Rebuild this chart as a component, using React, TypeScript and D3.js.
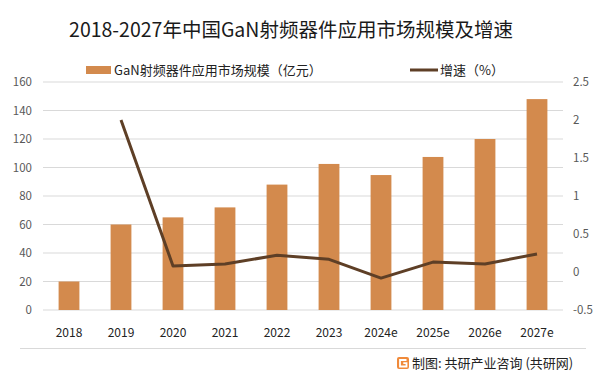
import React from "react";
import * as d3 from "d3";

const categories = ["2018", "2019", "2020", "2021", "2022", "2023", "2024e", "2025e", "2026e", "2027e"];
const marketSize = [20, 60, 65, 72, 88, 102.5, 94.7, 107.4, 120, 148];
const growth = [null, 2.0, 0.08, 0.105, 0.22, 0.167, -0.08, 0.13, 0.105, 0.237];
const leftTicks = [0, 20, 40, 60, 80, 100, 120, 140, 160];
const rightTicks = [-0.5, 0, 0.5, 1, 1.5, 2, 2.5];

const W = 601, H = 375;
const plotLeft = 43, plotRight = 563, plotTop = 82, plotBottom = 310;
const FONT = "'Noto Sans CJK SC', 'Noto Sans', sans-serif";
const BAR = "#D38A4D";
const LINE = "#5E3F26";

export default function App() {
  const x = d3.scaleBand<string>().domain(categories).range([plotLeft, plotRight]).paddingInner(0.6).paddingOuter(0.3);
  const yL = d3.scaleLinear().domain([0, 160]).range([plotBottom, plotTop]);
  const yR = d3.scaleLinear().domain([-0.5, 2.5]).range([plotBottom, plotTop]);
  const lineGen = d3.line<[string, number | null]>()
    .defined(d => d[1] !== null)
    .x(d => (x(d[0]) as number) + x.bandwidth() / 2)
    .y(d => yR(d[1] as number));
  const pts = categories.map((c, i) => [c, growth[i]] as [string, number | null]);
  const fmtR = (v: number) => String(v);

  return (
    <svg width={W} height={H} style={{ position: "absolute", left: 0, top: 0, background: "#fff" }} fontFamily={FONT}>
      <text x={291} y={37} textAnchor="middle" fontSize={19.5} fill="#1a1a1a">2018-2027年中国GaN射频器件应用市场规模及增速</text>
      {/* legend */}
      <rect x={86} y={66} width={25} height={8} fill={BAR} />
      <text x={114} y={75} fontSize={13} fill="#222">GaN射频器件应用市场规模（亿元）</text>
      <line x1={410} x2={438} y1={70} y2={70} stroke={LINE} strokeWidth={3} />
      <text x={440} y={75} fontSize={13} fill="#222">增速（%）</text>
      {/* grid */}
      {leftTicks.map(t => (
        <line key={t} x1={plotLeft} x2={plotRight} y1={yL(t)} y2={yL(t)} stroke="#D9D9D9" strokeWidth={1} />
      ))}
      {leftTicks.map(t => (
        <text key={"l" + t} x={32} y={yL(t) + 4} textAnchor="end" fontSize={11.5} fill="#595959">{t}</text>
      ))}
      {rightTicks.map(t => (
        <text key={"r" + t} x={573} y={yR(t) + 4} textAnchor="start" fontSize={11.5} fill="#595959">{fmtR(t)}</text>
      ))}
      {/* bars */}
      {categories.map((c, i) => (
        <rect key={c} x={x(c)} y={yL(marketSize[i])} width={x.bandwidth()} height={yL(0) - yL(marketSize[i])} fill={BAR} />
      ))}
      <path d={lineGen(pts) || ""} fill="none" stroke={LINE} strokeWidth={3} strokeLinejoin="round" />
      {categories.map(c => (
        <text key={"x" + c} x={(x(c) as number) + x.bandwidth() / 2} y={337} textAnchor="middle" fontSize={12} fill="#222">{c}</text>
      ))}
      {/* footer */}
      <line x1={20} x2={586} y1={348.5} y2={348.5} stroke="#D9D9D9" strokeWidth={1} />
      <g transform="translate(397,357)">
        <rect width={12} height={12} rx={2} fill="#F08A3A" />
        <path d="M9.5,3 H3 V9.5 H9.5 V6.2 H6.3" fill="none" stroke="#fff" strokeWidth={1.8} />
      </g>
      <text x={412} y={368} fontSize={13} fill="#222">制图: 共研产业咨询 (共研网)</text>
    </svg>
  );
}
